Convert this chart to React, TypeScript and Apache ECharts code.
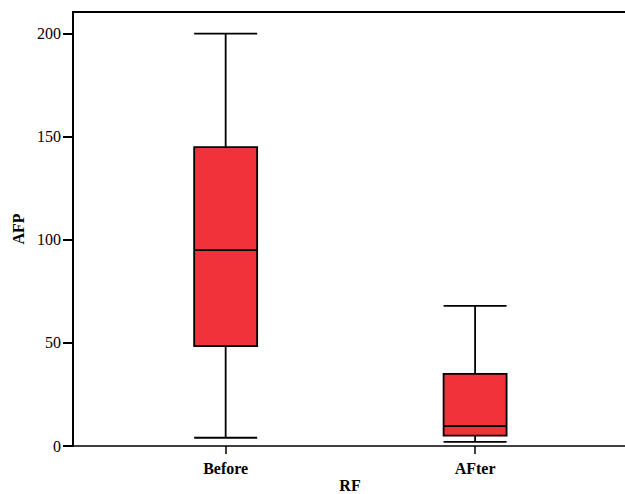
import React, { useEffect, useRef } from "react";
import * as echarts from "echarts";

const categories = ["Before", "AFter"];
const positions = [1, 2];
// [min, Q1, median, Q3, max]
const boxStats = [
  [4, 48.5, 95, 145, 200],
  [2, 5, 9.7, 35, 68],
];
const yTicks = [0, 50, 100, 150, 200];

const FONT = "'Liberation Serif', 'DejaVu Serif', serif";

export default function App() {
  const ref = useRef<HTMLDivElement>(null);
  useEffect(() => {
    if (!ref.current) return;
    const chart = echarts.init(ref.current, null, { renderer: "svg" });
    const xMin = 0.388;
    const xMax = 2.609;
    chart.setOption({
      animation: false,
      backgroundColor: "#ffffff",
      grid: {
        left: 73,
        top: 12,
        width: 554,
        bottom: 48,
        containLabel: false,
        outerBoundsMode: "none",
      },
      xAxis: [
        {
          type: "value",
          min: xMin,
          max: xMax,
          name: "RF",
          nameLocation: "middle",
          nameGap: 31,
          nameMoveOverlap: false,
          nameTextStyle: {
            fontFamily: FONT,
            fontSize: 16,
            fontWeight: "bold",
            color: "#000",
            lineHeight: 16,
          },
          splitLine: { show: false },
          axisLine: { show: true, onZero: false, lineStyle: { color: "#000", width: 1.5 } },
          axisTick: { show: true, length: 8, lineStyle: { color: "#000", width: 1.5 }, customValues: positions },
          axisLabel: {
            customValues: positions,
            margin: 14,
            fontFamily: FONT,
            fontSize: 16,
            fontWeight: "bold",
            color: "#000",
            formatter: (v: number) => {
              const i = positions.indexOf(Math.round(v));
              return i >= 0 ? categories[i] : "";
            },
          },
        },
        {
          type: "value",
          position: "top",
          min: xMin,
          max: xMax,
          splitLine: { show: false },
          axisLine: { show: true, onZero: false, lineStyle: { color: "#000", width: 2 } },
          axisTick: { show: false },
          axisLabel: { show: false },
        },
      ],
      yAxis: {
        type: "value",
        min: 0,
        max: 210.5,
        interval: 50,
        name: "AFP",
        nameLocation: "middle",
        nameGap: 47,
        nameMoveOverlap: false,
        nameTextStyle: { fontFamily: FONT, fontSize: 16, fontWeight: "bold", color: "#000" },
        splitLine: { show: false },
        axisLine: { show: true, lineStyle: { color: "#000", width: 2 } },
        axisTick: { show: true, length: 10, lineStyle: { color: "#000", width: 2 }, customValues: yTicks },
        axisLabel: {
          customValues: yTicks,
          margin: 12,
          fontFamily: FONT,
          fontSize: 16,
          color: "#000",
        },
      },
      series: [
        {
          type: "boxplot",
          xAxisIndex: 0,
          boxWidth: [63, 63],
          data: boxStats.map((s, i) => [positions[i], ...s]),
          itemStyle: { color: "#F0323A", borderColor: "#000", borderWidth: 1.8 },
          emphasis: { disabled: true },
          silent: true,
        },
      ],
    });
    return () => chart.dispose();
  }, []);
  return (
    <div
      ref={ref}
      style={{ position: "fixed", left: 0, top: 0, width: 625, height: 494, background: "#fff" }}
    />
  );
}
